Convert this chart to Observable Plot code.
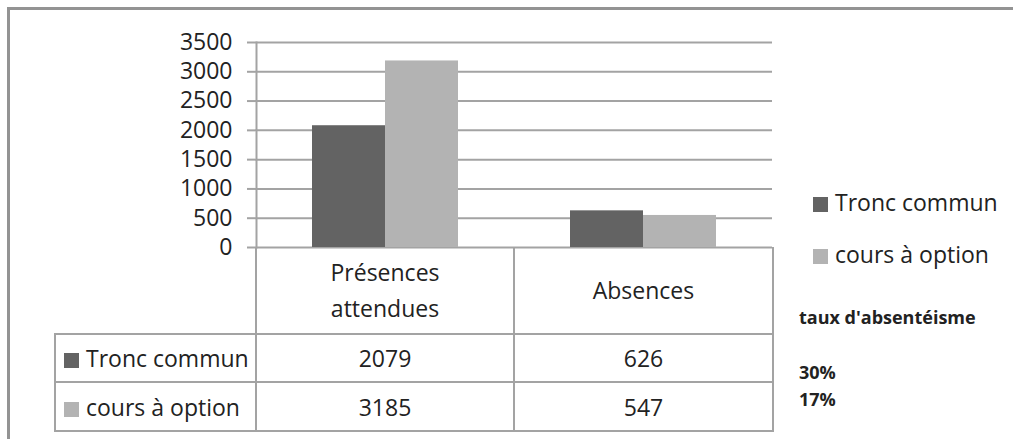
<!DOCTYPE html>
<html>
<head>
<meta charset="utf-8">
<script src="https://cdn.jsdelivr.net/npm/d3@7"></script>
<script src="https://cdn.jsdelivr.net/npm/@observablehq/plot@0.6"></script>
<style>
  html, body { margin: 0; padding: 0; background: #fff; }
  #wrap { position: relative; width: 1013px; height: 439px; overflow: hidden; font-family: "Open Sans", sans-serif; color: #222; }
  #border { position: absolute; left: 7px; top: 7px; width: 1100px; height: 600px; border: 3px solid #939393; box-sizing: border-box; }
  #chart { position: absolute; left: 0; top: 0; }
  table.dt { position: absolute; left: 54px; top: 247px; border-collapse: collapse; table-layout: fixed; font-size: 23px; }
  table.dt td { padding: 0; text-align: center; vertical-align: middle; white-space: nowrap; }
  table.dt tr.head td { height: 86px; line-height: 36px; border-right: 2px solid #a3a3a3; }
  table.dt tr.row td { border: 2px solid #a3a3a3; line-height: 28px; }
  table.dt tr.row1 td { height: 46px; }
  table.dt tr.row2 td { height: 47px; }
  table.dt td.lab { text-align: left; padding-left: 8px; }
  .sq { display: inline-block; width: 15px; height: 15px; margin-right: 7px; vertical-align: -1px; }
  .leg { position: absolute; left: 813px; font-size: 23px; line-height: 30px; white-space: nowrap; }
  .note { position: absolute; left: 799px; font-size: 18px; font-weight: bold; line-height: 22px; white-space: nowrap; }
</style>
</head>
<body>
<div id="wrap">
  <div id="border"></div>
</div>
<script>
// ---- data ----
const categories = ["Présences attendues", "Absences"];
const categoryLines = [["Présences", "attendues"], ["Absences"]];
const series = ["Tronc commun", "cours à option"];
const troncCommun = [2079, 626];
const coursOption = [3185, 547];
const yTicks = [0, 500, 1000, 1500, 2000, 2500, 3000, 3500];
const rateTitle = "taux d'absentéisme";
const rates = [0.30, 0.17];
const colors = ["#636363", "#b3b3b3"];

const values = [troncCommun, coursOption];
const rows = [];
series.forEach((s, si) => categories.forEach((c, ci) => rows.push({series: s, category: c, value: values[si][ci]})));

const wrap = document.getElementById("wrap");

const chart = Plot.plot({
  width: 1013,
  height: 439,
  marginTop: 42,
  marginBottom: 192,
  marginLeft: 255,
  marginRight: 241,
  style: {fontFamily: "Open Sans, sans-serif", fontSize: "23px", color: "#222", background: "transparent"},
  fx: {domain: categories, padding: 0, axis: null, label: null},
  x: {domain: series, paddingInner: 0, paddingOuter: 0.758, axis: null, label: null},
  y: {domain: [0, 3500], axis: null, label: null},
  color: {domain: series, range: colors},
  marks: [
    Plot.ruleY(yTicks, {stroke: "#a3a3a3", strokeWidth: 2}),
    Plot.barY(rows, {fx: "category", x: "series", y: "value", fill: "series"}),
    Plot.axisY({ticks: yTicks, label: null, tickSize: 9, tickPadding: 15, tickFormat: d3.format("d"), stroke: "#a3a3a3", strokeWidth: 2, fill: "#222", fontSize: 23}),
    Plot.frame({anchor: "left", stroke: "#a3a3a3", strokeWidth: 2, facet: "super"})
  ]
});
chart.id = "chart";
wrap.appendChild(chart);

const color = chart.scale("color");

// data table
const table = document.createElement("table");
table.className = "dt";
const colW = [201, 258, 259];
const cg = document.createElement("colgroup");
colW.forEach(w => { const c = document.createElement("col"); c.style.width = w + "px"; cg.appendChild(c); });
table.appendChild(cg);
const head = document.createElement("tr");
head.className = "head";
const blank = document.createElement("td");
head.appendChild(blank);
categoryLines.forEach(lines => {
  const td = document.createElement("td");
  td.innerHTML = lines.join("<br>");
  head.appendChild(td);
});
table.appendChild(head);
series.forEach((s, si) => {
  const tr = document.createElement("tr");
  tr.className = "row row" + (si + 1);
  const lab = document.createElement("td");
  lab.className = "lab";
  lab.innerHTML = `<span class="sq" style="background:${color.apply(s)}"></span>${s}`;
  tr.appendChild(lab);
  categories.forEach((c, ci) => {
    const td = document.createElement("td");
    td.textContent = values[si][ci];
    tr.appendChild(td);
  });
  table.appendChild(tr);
});
wrap.appendChild(table);

// legend
const legTops = [187, 239];
series.forEach((s, si) => {
  const d = document.createElement("div");
  d.className = "leg";
  d.style.top = legTops[si] + "px";
  d.innerHTML = `<span class="sq" style="background:${color.apply(s)}"></span>${s}`;
  wrap.appendChild(d);
});

// absenteeism notes
const t = document.createElement("div");
t.className = "note";
t.style.top = "306px";
t.textContent = rateTitle;
wrap.appendChild(t);
const rateTops = [361, 388];
rates.forEach((r, i) => {
  const d = document.createElement("div");
  d.className = "note";
  d.style.top = rateTops[i] + "px";
  d.textContent = d3.format(".0%")(r);
  wrap.appendChild(d);
});
</script>
</body>
</html>
